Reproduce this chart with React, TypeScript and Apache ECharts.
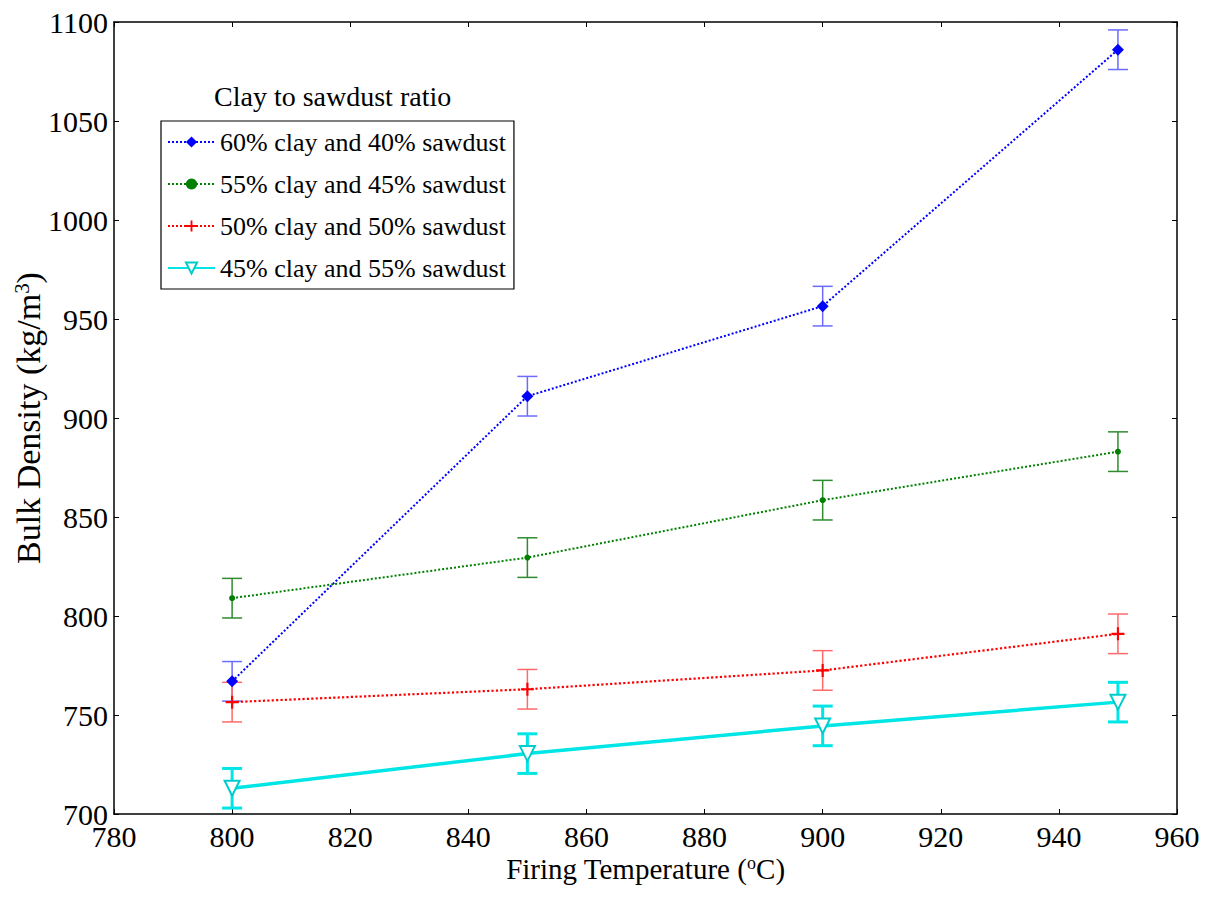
import React, { useEffect, useRef } from "react";
import * as echarts from "echarts";

const temps = [800, 850, 900, 950];
const clay60 = [767, 911, 956.5, 1086];
const clay55 = [809, 829.5, 858.5, 883];
const clay50 = [756.5, 763, 772.5, 791];
const clay45 = [713, 730.5, 744.5, 756.5];
const err60 = [10, 10, 10, 10];
const err55 = [10, 10, 10, 10];
const err50 = [10, 10, 10, 10];
const err45 = [10, 10, 10, 10];
const seriesNames = [
  "60% clay and 40% sawdust",
  "55% clay and 45% sawdust",
  "50% clay and 50% sawdust",
  "45% clay and 55% sawdust",
];

const FONT = "Liberation Serif";

function pairs(vals: number[]) {
  return temps.map((t, i) => [t, vals[i]]);
}

function errData(vals: number[], errs: number[]) {
  return temps.map((t, i) => [t, vals[i] - errs[i], vals[i] + errs[i]]);
}

function errSeries(vals: number[], errs: number[], color: string, lw: number) {
  return {
    type: "custom",
    silent: true,
    data: errData(vals, errs),
    renderItem: (params: any, api: any) => {
      const x = api.value(0);
      const lo = api.coord([x, api.value(1)]);
      const hi = api.coord([x, api.value(2)]);
      const hw = 10;
      const style = { stroke: color, lineWidth: lw };
      return {
        type: "group",
        children: [
          { type: "line", shape: { x1: lo[0], y1: lo[1], x2: hi[0], y2: hi[1] }, style },
          { type: "line", shape: { x1: lo[0] - hw, y1: lo[1], x2: lo[0] + hw, y2: lo[1] }, style },
          { type: "line", shape: { x1: hi[0] - hw, y1: hi[1], x2: hi[0] + hw, y2: hi[1] }, style },
        ],
      };
    },
    z: 1,
  };
}

const PLUS = "path://M-1,-6H1V-1H6V1H1V6H-1V1H-6V-1H-1Z";

export default function App() {
  const ref = useRef<HTMLDivElement>(null);
  useEffect(() => {
    if (!ref.current) return;
    const chart = echarts.init(ref.current, null, { renderer: "svg" });
    const axisCommon = {
      type: "value",
      axisLine: { show: true, lineStyle: { color: "#000", width: 1.5 } },
      axisTick: { show: true, inside: true, length: 5, lineStyle: { color: "#000", width: 1 } },
      splitLine: { show: false },
    };
    const option: any = {
      animation: false,
      backgroundColor: "#fff",
      textStyle: { fontFamily: FONT, color: "#000" },
      grid: { left: 114, right: 37, top: 22, bottom: 93, containLabel: false },
      xAxis: [
        {
          ...axisCommon,
          min: 780,
          max: 960,
          interval: 20,
          axisLabel: { color: "#000", fontFamily: FONT, fontSize: 30, margin: 7, formatter: (v: number) => String(v) },
          name: "Firing Temperature ({sup|o}C)",
          nameLocation: "middle",
          nameGap: 40,
          nameMoveOverlap: false,
          nameTextStyle: {
            color: "#000",
            fontFamily: FONT,
            fontSize: 29,
            rich: {
              sup: { fontFamily: FONT, fontSize: 18, verticalAlign: "top", color: "#000", padding: [0, 0, 12, 0] },
            },
          },
        },
        {
          ...axisCommon,
          position: "top",
          min: 780,
          max: 960,
          interval: 20,
          axisLabel: { show: false },
        },
      ],
      yAxis: [
        {
          ...axisCommon,
          min: 700,
          max: 1100,
          interval: 50,
          axisLabel: { color: "#000", fontFamily: FONT, fontSize: 30, margin: 6, formatter: (v: number) => String(v) },
          name: "Bulk Density (kg/m{sup|3})",
          nameLocation: "middle",
          nameRotate: 90,
          nameGap: 68,
          nameMoveOverlap: false,
          nameTextStyle: {
            color: "#000",
            fontFamily: FONT,
            fontSize: 34,
            rich: {
              sup: { fontFamily: FONT, fontSize: 21, verticalAlign: "top", color: "#000", padding: [0, 0, 14, 0] },
            },
          },
        },
        {
          ...axisCommon,
          position: "right",
          min: 700,
          max: 1100,
          interval: 50,
          axisLabel: { show: false },
        },
      ],
      legend: {
        data: seriesNames,
        orient: "vertical",
        left: 161,
        top: 121,
        padding: [8, 8, 8, 6],
        itemGap: 16,
        itemWidth: 47,
        itemHeight: 14,
        backgroundColor: "#fff",
        borderColor: "#000",
        borderWidth: 1.2,
        borderRadius: 0,
        textStyle: { color: "#000", fontFamily: FONT, fontSize: 26 },
      },
      graphic: [
        {
          type: "text",
          left: 214,
          top: 82,
          style: { text: "Clay to sawdust ratio", fill: "#000", fontFamily: FONT, fontSize: 28 },
        },
      ],
      series: [
        errSeries(clay60, err60, "#6b6bff", 1.5),
        errSeries(clay55, err55, "#2e8b2e", 1.5),
        errSeries(clay50, err50, "#ff6b6b", 1.5),
        errSeries(clay45, err45, "#00e5e5", 3),
        {
          name: seriesNames[0],
          type: "line",
          data: pairs(clay60),
          symbol: "diamond",
          symbolSize: 12,
          itemStyle: { color: "#0000ff" },
          lineStyle: { color: "#0000ff", width: 2, type: "dotted" },
          z: 3,
        },
        {
          name: seriesNames[1],
          type: "line",
          data: pairs(clay55),
          symbol: "circle",
          symbolSize: 6,
          itemStyle: { color: "#008000" },
          lineStyle: { color: "#008000", width: 2, type: "dotted" },
          z: 3,
        },
        {
          name: seriesNames[2],
          type: "line",
          data: pairs(clay50),
          symbol: PLUS,
          symbolSize: 13,
          itemStyle: { color: "#ff0000" },
          lineStyle: { color: "#ff0000", width: 2.2, type: "dotted" },
          z: 3,
        },
        {
          name: seriesNames[3],
          type: "line",
          data: pairs(clay45),
          symbol: "emptyTriangle",
          symbolRotate: 180,
          symbolSize: 15,
          itemStyle: { color: "#00cccc", borderWidth: 2.5 },
          lineStyle: { color: "#00e5e5", width: 3.5, type: "solid" },
          z: 3,
        },
      ],
    };
    chart.setOption(option);
    return () => chart.dispose();
  }, []);
  return (
    <div
      ref={ref}
      style={{ position: "fixed", left: 0, top: 0, width: 1214, height: 907, background: "#fff" }}
    />
  );
}
